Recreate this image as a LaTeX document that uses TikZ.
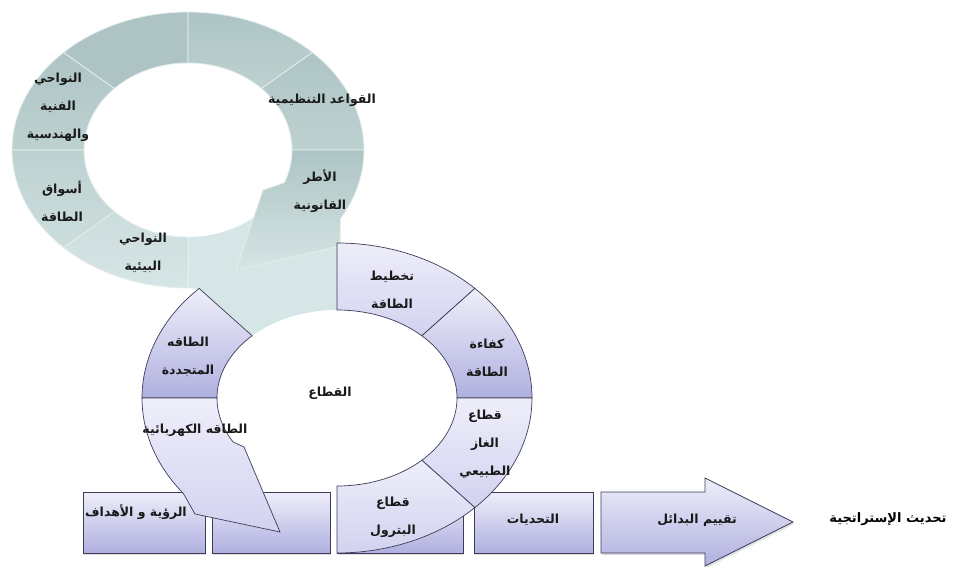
\documentclass[tikz,border=0pt]{standalone}
\usepackage{fontspec}
\newfontfamily\arabicfont[Script=Arabic]{DejaVu Sans}
\TeXXeTstate=1
\usetikzlibrary{shadows}
\newcommand\artxt[1]{\beginR #1\endR}
\definecolor{tealA}{RGB}{174,196,196}
\definecolor{tealB}{RGB}{190,209,209}
\definecolor{tealC}{RGB}{204,221,221}
\definecolor{tealD}{RGB}{214,229,229}
\definecolor{tealLine}{RGB}{228,238,238}
\definecolor{pLight}{RGB}{238,238,250}
\definecolor{pMid}{RGB}{210,210,240}
\definecolor{pDark}{RGB}{176,176,224}
\definecolor{pBorder}{RGB}{60,60,90}
\begin{document}
\begin{tikzpicture}[x=1pt,y=-1pt,
  lbl/.style={font=\arabicfont\bfseries\fontsize{12.5}{28}\selectfont, align=center, text=black!90, inner sep=0pt},
  ttl/.style={font=\arabicfont\bfseries\fontsize{13}{16}\selectfont, text=black, inner sep=0pt},
  tseg/.style={draw=tealLine, line width=0.8pt},
  pseg/.style={draw=pBorder, line width=0.7pt},
  pbox/.style={draw=pBorder, line width=0.8pt, top color=pLight, bottom color=pDark,
    drop shadow={opacity=0.25, shadow xshift=1pt, shadow yshift=-2pt}},
]
\useasboundingbox (0,0) rectangle (953,567);

% ---------- teal ring (outer 188,150 r 176x138 ; inner r 104x87)
\newcommand\tealseg[4]{%
  \path[tseg, top color=#3, bottom color=#4]
    plot[domain=#1:#2,samples=30] ({188+176*cos(\x)},{150+138*sin(\x)})
    -- plot[domain=#2:#1,samples=30] ({188+104*cos(\x)},{150+87*sin(\x)}) -- cycle;}
\tealseg{90}{135}{tealC}{tealD}
\tealseg{135}{180}{tealB}{tealC}
\tealseg{180}{225}{tealA}{tealB}
\tealseg{225}{270}{tealA}{tealA}
\tealseg{270}{315}{tealA}{tealB}
\tealseg{315}{360}{tealA}{tealB}
% tail
\path[fill=tealD]
  (300,205) -- plot[domain=45:90,samples=20] ({188+104*cos(\x)},{150+87*sin(\x)})
  -- (188,288) -- (198,289)
  -- plot[domain=225:270,samples=20] ({337+120*cos(\x)},{398+88*sin(\x)})
  -- (337,240) -- cycle;
\draw[tealLine, line width=0.8pt] (188,237) -- (188,288);
% legal arrow
\path[tseg, top color=tealA, bottom color=tealD]
  plot[domain=0:30,samples=20] ({188+176*cos(\x)},{150+138*sin(\x)})
  -- (340,246) -- (236,270) -- (263,190)
  -- plot[domain=22:0,samples=20] ({188+104*cos(\x)},{150+87*sin(\x)}) -- cycle;

% ---------- bottom boxes
\path[pbox] (83,492) rectangle (205,553);
\path[pbox] (212,492) rectangle (330,553);
\path[pbox] (337,492) rectangle (463,553);
\path[pbox] (474,492) rectangle (593,553);
\path[pbox] (601,492) -- (705,492) -- (705,478) -- (793,522) -- (705,566) -- (705,553) -- (601,553) -- cycle;

% ---------- purple ring (center 337,398 ; outer 195x155 ; inner 120x88)
\newcommand\purpseg[4]{%
  \path[pseg, top color=#3, bottom color=#4]
    plot[domain=#1:#2,samples=30] ({337+195*cos(\x)},{398+155*sin(\x)})
    -- plot[domain=#2:#1,samples=30] ({337+120*cos(\x)},{398+88*sin(\x)}) -- cycle;}
\purpseg{270}{315}{pLight}{pMid}
\purpseg{315}{360}{pLight}{pDark}
\purpseg{0}{45}{pLight}{pMid}
\purpseg{45}{90}{pLight}{pMid}
\purpseg{180}{225}{pLight}{pDark}
% electricity arrow
\path[pseg, top color=pLight, bottom color=pMid]
  plot[domain=180:142,samples=30] ({337+195*cos(\x)},{398+155*sin(\x)})
  -- (195,514) -- (280,532) -- (244,447)
  -- plot[domain=150:180,samples=20] ({337+120*cos(\x)},{398+88*sin(\x)}) -- cycle;

% ---------- labels
\node[lbl] (rules) at (322,100) {\artxt{القواعد التنظيمية}};
\node[lbl] (legal) at (320,191) {\artxt{الأطر}\\\artxt{القانونية}};
\node[lbl] (tech) at (58,107) {\artxt{النواحي}\\\artxt{الفنية}\\\artxt{والهندسية}};
\node[lbl] (markets) at (62,201) {\artxt{أسواق}\\\artxt{الطاقة}};
\node[lbl] (env) at (143,253) {\artxt{النواحي}\\\artxt{البيئية}};

\node[lbl] (plan) at (392,290) {\artxt{تخطيط}\\\artxt{الطاقة}};
\node[lbl] (eff) at (487,358) {\artxt{كفاءة}\\\artxt{الطاقة}};
\node[lbl] (gas) at (485,444) {\artxt{قطاع}\\\artxt{الغاز}\\\artxt{الطبيعي}};
\node[lbl] (oil) at (393,517) {\artxt{قطاع}\\\artxt{البترول}};
\node[lbl] (renew) at (188,357) {\artxt{الطاقه}\\\artxt{المتجددة}};
\node[lbl] (elec) at (195,430) {\artxt{الطاقه الكهربائية}};
\node[lbl] (sector) at (330,393) {\artxt{القطاع}};

\node[lbl] (vision) at (136,512) {\artxt{الرؤية و الأهداف}};
\node[lbl] (chall) at (533,520) {\artxt{التحديات}};
\node[lbl] (alt) at (697,520) {\artxt{تقييم البدائل}};
\node[ttl] (update) at (888,519) {\artxt{تحديث الإستراتجية}};
\end{tikzpicture}
\end{document}
